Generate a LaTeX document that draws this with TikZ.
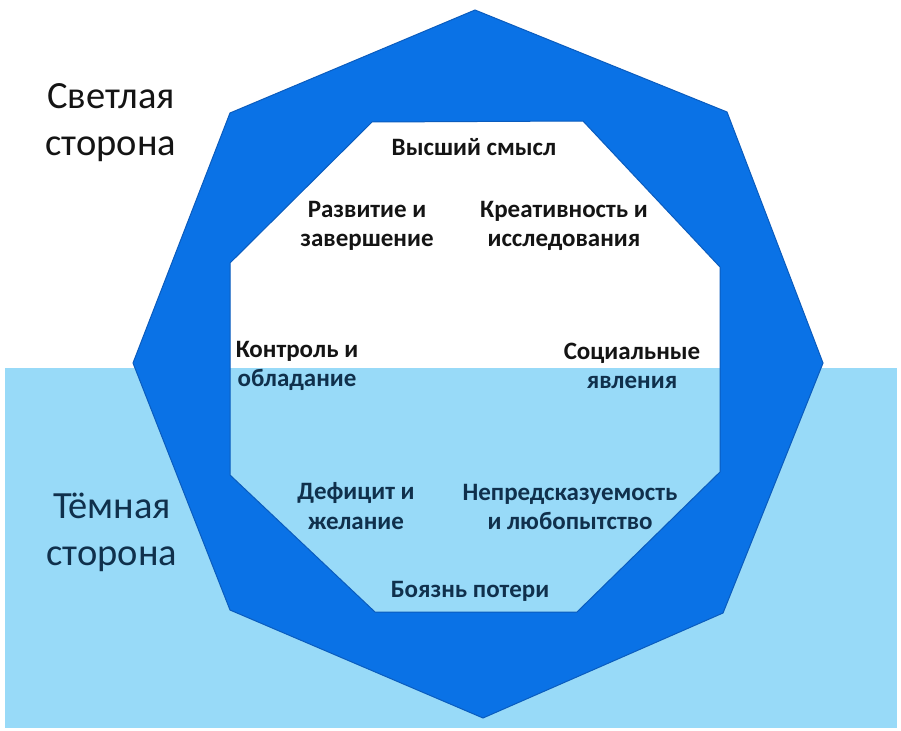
\documentclass[tikz,border=0pt]{standalone}
\usepackage{fontspec}
\setmainfont{Carlito}
\definecolor{deepBlue}{HTML}{0A72E6}
\definecolor{edgeBlue}{HTML}{0A5CBE}
\definecolor{seaBlue}{HTML}{98DAF8}
\definecolor{inkDark}{HTML}{141414}
\definecolor{inkNavy}{HTML}{10304C}

\begin{document}
\begin{tikzpicture}[x=1pt, y=-1pt,
        side/.style={font=\fontsize{38.5}{47}\selectfont, align=center},
        lbl/.style={font=\bfseries\fontsize{25}{29.5}\selectfont, align=center, text=inkDark},
        lblDark/.style={lbl, text=inkNavy}
      ]
        \useasboundingbox (0,0) rectangle (901,730);
        \fill[white] (0,0) rectangle (901,730);
        % water line: the dark side
        \fill[seaBlue] (5,368) rectangle (897,728);
        % octagon ring
        \filldraw[fill=deepBlue, draw=edgeBlue, line width=1pt, even odd rule]
          (475,10) -- (727,112) -- (823,363) -- (723,613) -- (483,718) -- (230,610) -- (133,363) -- (230,113) -- cycle
          (372,122) -- (583,121) -- (720,267) -- (720,472) -- (577,612) -- (375,612) -- (230,475) -- (230,263) -- cycle;

        \node[side, text=inkDark] (light) at (111,123) {Светлая\\сторона};
        \node[side, text=inkNavy] (dark) at (112,532) {Тёмная\\сторона};

        \node[lbl] (meaning) at (474,147) {Высший смысл};
        \node[lbl] (growth) at (367,226) {Развитие и\\завершение};
        \node[lbl] (create) at (564,226) {Креативность и\\исследования};
        \node[lbl] (control) at (297,366) {Контроль и\\\color{inkNavy}обладание};
        \node[lbl] (social) at (632,366) {Социальные\\\color{inkNavy}явления};
        \node[lblDark] (deficit) at (356,506) {Дефицит и\\желание};
        \node[lblDark] (curious) at (570,507) {Непредсказуемость\\и любопытство};
        \node[lblDark] (loss) at (470,591) {Боязнь потери};
      \end{tikzpicture}
\end{document}
